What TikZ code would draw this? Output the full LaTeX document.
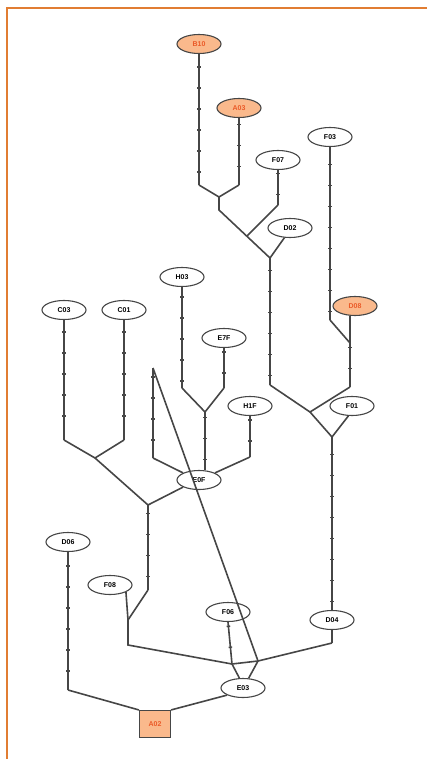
\documentclass[tikz,border=0pt]{standalone}
\usepackage{fontspec}
\setmainfont{Liberation Sans}
\usetikzlibrary{shapes.geometric,decorations.markings}
\definecolor{hapline}{RGB}{70,70,70}
\definecolor{hapfill}{RGB}{250,185,140}
\definecolor{haptext}{RGB}{235,90,40}
\definecolor{frameorange}{RGB}{225,125,50}
\begin{document}
\begin{tikzpicture}[x=1pt,y=-1pt,
    hap/.style={ellipse,draw=hapline,line width=1.1pt,fill=white,minimum width=44pt,minimum height=19pt,inner sep=0pt,font=\fontsize{7}{8}\selectfont\bfseries},
    hapo/.style={hap,fill=hapfill,text=haptext},
    link/.style={hapline,line width=1.6pt},
    ticks/.style={postaction={decorate,decoration={markings,mark=between positions 0.1 and 0.95 step 21pt with {\draw[hapline,line width=1.4pt] (0,-1.8pt) -- (0,1.8pt);}}}}]
    \useasboundingbox (0,0) rectangle (427,759);
    \draw[frameorange,line width=1.2pt] (7,759) -- (7,8) -- (427,8);

    % haplotypes
    \node[hapo] (B10) at (199,44) {B10};
    \node[hapo] (A03) at (239,108) {A03};
    \node[hap] (F07) at (278,160) {F07};
    \node[hap] (F03) at (330,137) {F03};
    \node[hap] (D02) at (290,228) {D02};
    \node[hapo] (D08) at (355,306) {D08};
    \node[hap] (C03) at (64,310) {C03};
    \node[hap] (C01) at (124,310) {C01};
    \node[hap] (H03) at (182,277) {H03};
    \node[hap] (E7F) at (224,338) {E7F};
    \node[hap] (H1F) at (250,406) {H1F};
    \node[hap] (F01) at (352,406) {F01};
    \node[hap] (E0F) at (199,480) {E0F};
    \node[hap] (D06) at (68,542) {D06};
    \node[hap] (F08) at (110,585) {F08};
    \node[hap] (F06) at (228,612) {F06};
    \node[hap] (D04) at (332,620) {D04};
    \node[hap] (E03) at (243,688) {E03};
    \node[rectangle,draw=hapline,line width=1.1pt,fill=hapfill,text=haptext,minimum width=31pt,minimum height=27pt,font=\fontsize{7}{8}\selectfont\bfseries] (A02) at (155,724) {A02};

    % bends and median points
    \coordinate (b10e) at (199,185);
    \coordinate (a03e) at (239,185);
    \coordinate (j1) at (219,197);
    \coordinate (k1) at (219,210);
    \coordinate (j2) at (270,258);
    \coordinate (f07e) at (278,205);
    \coordinate (m1) at (247,236);
    \coordinate (k2) at (270,385);
    \coordinate (f03e) at (330,320);
    \coordinate (j3) at (350,343);
    \coordinate (k3) at (350,387);
    \coordinate (j4) at (310,412);
    \coordinate (j5) at (332,437);
    \coordinate (c03e) at (64,440);
    \coordinate (c01e) at (124,440);
    \coordinate (j6) at (95,458);
    \coordinate (j7) at (148,505);
    \coordinate (k7) at (148,590);
    \coordinate (j8) at (128,620);
    \coordinate (k8) at (128,645);
    \coordinate (j9) at (232,664);
    \coordinate (d04e) at (332,643);
    \coordinate (j10) at (258,661);
    \coordinate (h03e) at (182,388);
    \coordinate (e7fe) at (224,388);
    \coordinate (j11) at (205,412);
    \coordinate (h1fe) at (250,457);
    \coordinate (top) at (153,368);
    \coordinate (tl) at (153,458);
    \coordinate (d06e) at (68,690);

    % upper right part
    \draw[link,ticks] (B10) -- (b10e);
    \draw[link,ticks] (A03) -- (a03e);
    \draw[link] (b10e) -- (j1) -- (a03e);
    \draw[link] (j1) -- (k1) -- (j2);
    \draw[link,ticks] (F07) -- (f07e);
    \draw[link] (f07e) -- (m1);
    \draw[link] (D02.240) -- (j2);
    \draw[link,ticks] (j2) -- (k2);
    \draw[link] (k2) -- (j4);
    \draw[link,ticks] (F03) -- (f03e);
    \draw[link] (f03e) -- (j3);
    \draw[link] (j3 |- D08.south) -- (j3);
    \draw[link,ticks] (j3) -- (k3);
    \draw[link] (k3) -- (j4) -- (j5);
    \draw[link] (F01.250) -- (j5);
    \draw[link,ticks] (j5) -- (D04);

    % left part
    \draw[link,ticks] (C03) -- (c03e);
    \draw[link,ticks] (C01) -- (c01e);
    \draw[link] (c03e) -- (j6) -- (c01e);
    \draw[link] (j6) -- (j7);
    \draw[link,ticks] (H03) -- (h03e);
    \draw[link,ticks] (E7F) -- (e7fe);
    \draw[link] (h03e) -- (j11) -- (e7fe);
    \draw[link,ticks] (j11) -- (j11 |- E0F.north);
    \draw[link,ticks] (H1F) -- (h1fe);
    \draw[link] (h1fe) -- (E0F.north east);
    \draw[link,ticks] (top) -- (tl);
    \draw[link] (tl) -- (E0F.north west);
    \draw[link] (E0F.south west) -- (j7);
    \draw[link,ticks] (j7) -- (k7);
    \draw[link] (k7) -- (j8);
    \draw[link] (F08.south east) -- (j8);
    \draw[link] (j8) -- (k8) -- (j9) -- (j10) -- (d04e);
    \draw[link] (D04) -- (d04e);
    \draw[link,ticks] (F06.south) -- (j9);
    \draw[link] (top) -- (j10);
    \draw[link] (j9) -- (E03.110);
    \draw[link] (j10) -- (E03.60);

    % root
    \draw[link,ticks] (D06) -- (d06e);
    \draw[link] (d06e) -- (A02.north west);
    \draw[link] (E03.south west) -- (A02.north east);
\end{tikzpicture}
\end{document}
